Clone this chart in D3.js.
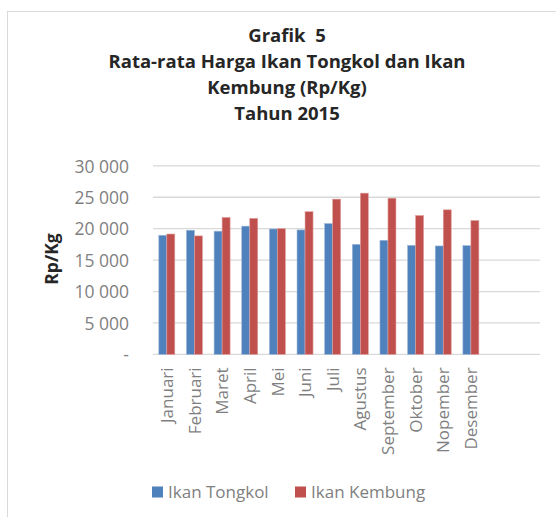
<!DOCTYPE html>
<html>
<head>
<meta charset="utf-8">
<script src="https://cdn.jsdelivr.net/npm/d3@7"></script>
<style>
  body { margin: 0; background: #fff; }
  text { font-family: "Open Sans", sans-serif; }
</style>
</head>
<body>
<div id="chart"></div>
<script>
// data
var months = ["Januari", "Februari", "Maret", "April", "Mei", "Juni", "Juli",
              "Agustus", "September", "Oktober", "Nopember", "Desember"];
var tongkol = [18950, 19750, 19600, 20400, 19950, 19800, 20800, 17500, 18150, 17350, 17250, 17300];
var kembung = [19150, 18850, 21800, 21650, 20000, 22700, 24700, 25650, 24850, 22100, 23000, 21300];
var seriesNames = ["Ikan Tongkol", "Ikan Kembung"];
var seriesColors = ["#4F81BD", "#C0504D"];
var yTicks = [0, 5000, 10000, 15000, 20000, 25000, 30000];
var titleLines = ["Grafik  5", "Rata-rata Harga Ikan Tongkol dan Ikan", "Kembung (Rp/Kg)", "Tahun 2015"];

var W = 556, H = 517;
var plot = { left: 153, right: 540, top: 165.8, bottom: 354.4 };

var svg = d3.select("#chart").append("svg")
    .attr("width", W)
    .attr("height", H);

// chart frame
svg.append("rect")
    .attr("x", 7.5).attr("y", 11.5)
    .attr("width", 560).attr("height", 520)
    .attr("fill", "#fff")
    .attr("stroke", "#d9d9d9")
    .attr("stroke-width", 1);

// title
svg.append("g").selectAll("text")
    .data(titleLines)
    .enter().append("text")
    .attr("x", 287)
    .attr("y", function (d, i) { return 41.5 + i * 26.2; })
    .attr("text-anchor", "middle")
    .style("font-size", "18.5px")
    .style("font-weight", "bold")
    .style("white-space", "pre")
    .attr("fill", "#262626")
    .text(function (d) { return d; });

// 14 slots on the category axis, the last two are empty
var x = d3.scaleBand()
    .domain(d3.range(14))
    .range([plot.left, plot.right]);

var y = d3.scaleLinear()
    .domain([0, 30000])
    .range([plot.bottom, plot.top]);

var barW = 8;

// gridlines
svg.append("g").selectAll("line")
    .data(yTicks)
    .enter().append("line")
    .attr("x1", plot.left).attr("x2", plot.right)
    .attr("y1", function (d) { return y(d); })
    .attr("y2", function (d) { return y(d); })
    .attr("stroke", "#d9d9d9")
    .attr("stroke-width", 1.3);

// y axis labels
var fmt = function (d) { return d === 0 ? "-" : d3.format(",")(d).replace(/,/g, " "); };
var yAxis = d3.axisLeft(y)
    .tickValues(yTicks)
    .tickSize(0)
    .tickPadding(0)
    .tickFormat(fmt);
var gy = svg.append("g")
    .attr("transform", "translate(129,0)")
    .call(yAxis);
gy.select(".domain").remove();
gy.selectAll("text")
    .attr("fill", "#7f7f7f")
    .attr("dy", "0.36em")
    .style("font-size", "17.5px");

// y axis title
svg.append("text")
    .attr("transform", "translate(58,259) rotate(-90)")
    .attr("text-anchor", "middle")
    .style("font-size", "17.5px")
    .style("font-weight", "bold")
    .attr("fill", "#262626")
    .text("Rp/Kg");

// bars
var allSeries = [tongkol, kembung];
allSeries.forEach(function (vals, si) {
    svg.append("g").selectAll("rect")
        .data(vals)
        .enter().append("rect")
        .attr("x", function (d, i) { return x(i) + x.bandwidth() / 2 - barW + si * barW; })
        .attr("y", function (d) { return y(d); })
        .attr("width", barW)
        .attr("height", function (d) { return y(0) - y(d); })
        .attr("fill", seriesColors[si])
        .attr("stroke", si === 0 ? "#9db6d9" : "#e0a3a1")
        .attr("stroke-width", 0.6);
});

// x axis labels (rotated)
var xAxis = d3.axisBottom(x)
    .tickSize(0)
    .tickPadding(0)
    .tickFormat(function (i) { return months[i] || ""; });
var gx = svg.append("g")
    .attr("transform", "translate(0," + (plot.bottom + 13) + ")")
    .call(xAxis);
gx.select(".domain").remove();
gx.selectAll("text")
    .attr("transform", "rotate(-90)")
    .attr("text-anchor", "end")
    .attr("x", 0)
    .attr("y", 0)
    .attr("dy", "0.36em")
    .attr("fill", "#7f7f7f")
    .style("font-size", "17px");

// legend
var legendX = [152, 295];
var lg = svg.append("g");
seriesNames.forEach(function (name, i) {
    lg.append("rect")
        .attr("x", legendX[i]).attr("y", 486.5)
        .attr("width", 11).attr("height", 11)
        .attr("fill", seriesColors[i]);
    lg.append("text")
        .attr("x", legendX[i] + 16).attr("y", 492)
        .attr("dy", "0.36em")
        .attr("fill", "#7f7f7f")
        .style("font-size", "17px")
        .text(name);
});
</script>
</body>
</html>
